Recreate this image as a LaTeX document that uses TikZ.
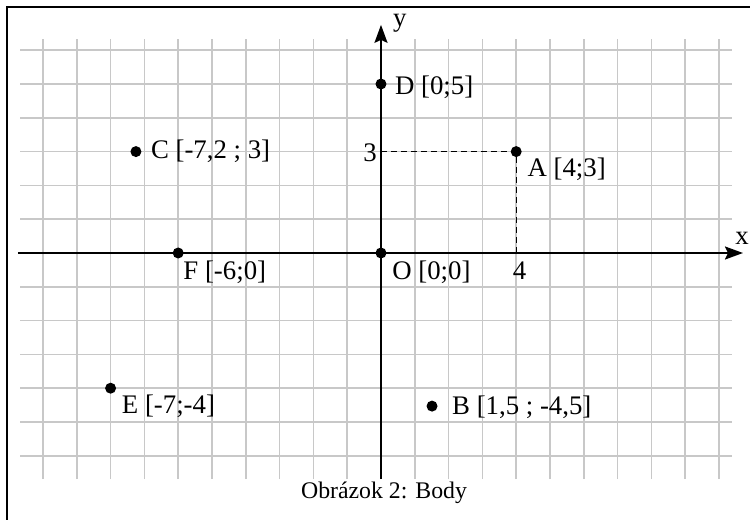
\documentclass[tikz,border=0pt]{standalone}
\usepackage{fontspec}
\setmainfont{Liberation Serif}
\usetikzlibrary{arrows.meta,calc}
\begin{document}
\begin{tikzpicture}[x=33.8pt,y=33.8pt,
  gridline/.style={draw={rgb,255:red,200;green,200;blue,200},line width=1.5pt},
  axisline/.style={draw=black,line width=2pt,-{Stealth[length=18pt,width=13pt,inset=3pt]}},
  dot/.style={circle,fill=black,inner sep=0pt,minimum size=11pt},
  lbl/.style={font=\fontsize{26.8}{30}\selectfont,inner sep=0pt},
  caplbl/.style={font=\fontsize{23.8}{28}\selectfont,inner sep=0pt},
  helper/.style={draw=black,line width=1pt,dash pattern=on 6pt off 4pt}]
\useasboundingbox (-11.272,-7.870) rectangle (10.917,7.485);
% frame
\draw[line width=2pt] (-11.065,-7.95) -- (-11.065,7.278) -- (11.0,7.278);
% grid
\draw[gridline,step=1] (-10.68,-6.69) grid (10.37,6.33);
% axes
\coordinate (xs) at (-10.74,0);
\coordinate (xe) at (10.71,0);
\coordinate (ys) at (0,-6.69);
\coordinate (ye) at (0,6.75);
\draw[axisline] (xs) -- (xe);
\draw[axisline] (ys) -- (ye);
\node[lbl] (xl) at (10.68,0.44) {x};
\node[lbl] (yl) at (0.56,6.80) {y};
% helper dashes
\coordinate (a3) at (0,3);
\coordinate (a4) at (4,0);
\node[dot] (A) at (4,3) {};
\draw[helper] (a3) -- (A) -- (a4);
\node[lbl,anchor=east] (l3) at (-0.12,2.97) {3};
\node[lbl] (l4) at (4.1,-0.53) {4};
% points
\node[dot] (B) at (1.51,-4.53) {};
\node[dot] (C) at (-7.25,3) {};
\node[dot] (D) at (0,5) {};
\node[dot] (E) at (-8,-4) {};
\node[dot] (F) at (-6,0) {};
\node[dot] (O) at (0,0) {};
\node[lbl,anchor=west] (LA) at ($(A)+(0.33,-0.53)$) {A [4;3]};
\node[lbl,anchor=west] (LB) at ($(B)+(0.59,-0.03)$) {B [1,5 ; -4,5]};
\node[lbl,anchor=west] (LC) at ($(C)+(0.44,0)$) {C [-7,2 ; 3]};
\node[lbl,anchor=west] (LD) at ($(D)+(0.41,-0.09)$) {D [0;5]};
\node[lbl,anchor=west] (LE) at ($(E)+(0.33,-0.53)$) {E [-7;-4]};
\node[lbl,anchor=west] (LF) at ($(F)+(0.15,-0.56)$) {F [-6;0]};
\node[lbl,anchor=west] (LO) at ($(O)+(0.33,-0.56)$) {O [0;0]};
% caption
\node[caplbl] (cap) at (0.09,-7.10) {Obrázok 2: Body};
\end{tikzpicture}
\end{document}
